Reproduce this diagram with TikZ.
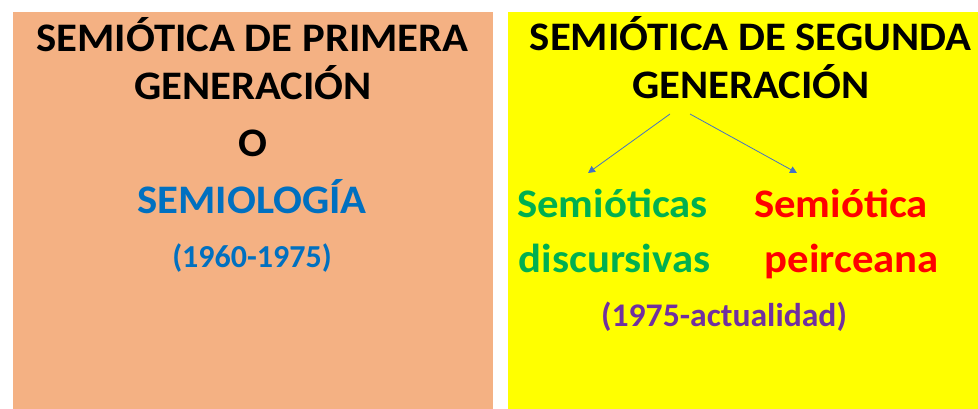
\documentclass[tikz,border=0pt]{standalone}
\usepackage{fontspec}
\setmainfont{Carlito}
\usetikzlibrary{arrows.meta}
\definecolor{boxorange}{HTML}{F4B183}
\definecolor{boxyellow}{HTML}{FFFF00}
\definecolor{txtblue}{HTML}{0070C0}
\definecolor{txtgreen}{HTML}{00B050}
\definecolor{txtred}{HTML}{FF0000}
\definecolor{txtpurple}{HTML}{7030A0}
\definecolor{arrowblue}{HTML}{4472C4}
\newcommand{\wide}[1]{\scalebox{1.055}[1]{#1}}
\tikzset{
  bigtxt/.style={anchor=base, inner sep=0pt, font=\fontsize{40.5}{48}\selectfont\bfseries},
  smalltxt/.style={anchor=base, inner sep=0pt, font=\fontsize{32}{38}\selectfont\bfseries},
  datetxt/.style={anchor=base, inner sep=0pt, font=\fontsize{33}{39}\selectfont\bfseries},
  conn/.style={draw=arrowblue, line width=0.8pt, -{Triangle[length=7pt,width=7pt]}}
}
\begin{document}
\begin{tikzpicture}[x=1pt,y=-1pt]
\useasboundingbox (0,0) rectangle (978,409);
\fill[boxorange] (13,12) rectangle (493,409);
\fill[boxyellow] (508,12) rectangle (978,409);
% left
\node[bigtxt] (l1) at (252.5,52) {\wide{SEMIÓTICA DE PRIMERA}};
\node[bigtxt] (l2) at (253,100) {\wide{GENERACIÓN}};
\node[bigtxt] (l3) at (253,157) {\wide{O}};
\node[bigtxt, text=txtblue] (l4) at (252,214) {\wide{SEMIOLOGÍA}};
\node[smalltxt, text=txtblue] (l5) at (252,267) {(1960-1975)};
% right
\node[bigtxt] (r1) at (750.5,51) {\wide{SEMIÓTICA DE SEGUNDA}};
\node[bigtxt] (r2) at (751,99) {\wide{GENERACIÓN}};
\node[bigtxt, text=txtgreen] (g1) at (612.5,218) {\wide{Semióticas}};
\node[bigtxt, text=txtgreen] (g2) at (614.5,272) {\wide{discursivas}};
\node[bigtxt, text=txtred] (p1) at (841,218) {\wide{Semiótica}};
\node[bigtxt, text=txtred] (p2) at (852,272) {\wide{peirceana}};
\node[datetxt, text=txtpurple] (y) at (724,326) {\scalebox{1.02}[1]{(1975-actualidad)}};
\coordinate (s1) at (670,114);
\coordinate (s2) at (690,114);
\coordinate (e1) at (588,173);
\coordinate (e2) at (797,173);
\draw[conn] (s1) -- (e1);
\draw[conn] (s2) -- (e2);
\end{tikzpicture}
\end{document}
